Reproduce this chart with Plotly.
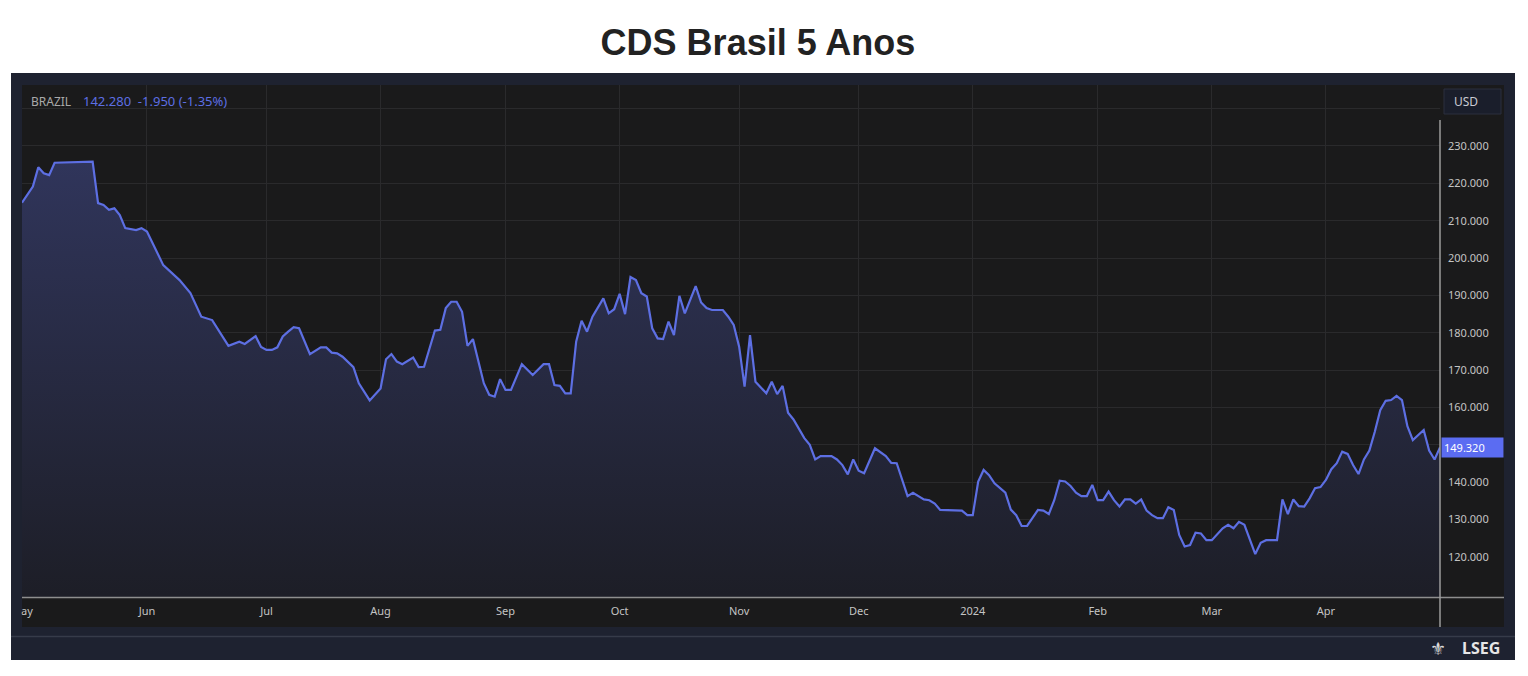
import plotly.graph_objects as go

# CDS Brasil 5 anos (dias uteis)
dates = [
    "2023-05-01", "2023-05-03", "2023-05-04", "2023-05-05", "2023-05-08", "2023-05-09",
    "2023-05-18", "2023-05-19", "2023-05-22", "2023-05-23", "2023-05-24", "2023-05-25",
    "2023-05-26", "2023-05-30", "2023-05-31", "2023-06-01", "2023-06-06", "2023-06-09",
    "2023-06-13", "2023-06-15", "2023-06-19", "2023-06-22", "2023-06-26", "2023-06-27",
    "2023-06-29", "2023-06-30", "2023-07-03", "2023-07-04", "2023-07-05", "2023-07-06",
    "2023-07-07", "2023-07-10", "2023-07-11", "2023-07-13", "2023-07-17", "2023-07-18",
    "2023-07-19", "2023-07-20", "2023-07-21", "2023-07-25", "2023-07-26", "2023-07-28",
    "2023-08-01", "2023-08-02", "2023-08-03", "2023-08-04", "2023-08-07", "2023-08-09",
    "2023-08-10", "2023-08-11", "2023-08-15", "2023-08-16", "2023-08-17", "2023-08-18",
    "2023-08-21", "2023-08-22", "2023-08-23", "2023-08-24", "2023-08-28", "2023-08-29",
    "2023-08-30", "2023-08-31", "2023-09-01", "2023-09-04", "2023-09-06", "2023-09-08",
    "2023-09-12", "2023-09-13", "2023-09-14", "2023-09-15", "2023-09-18", "2023-09-19",
    "2023-09-20", "2023-09-21", "2023-09-22", "2023-09-25", "2023-09-27", "2023-09-28",
    "2023-09-29", "2023-10-02", "2023-10-03", "2023-10-04", "2023-10-05", "2023-10-06",
    "2023-10-09", "2023-10-10", "2023-10-11", "2023-10-12", "2023-10-13", "2023-10-16",
    "2023-10-17", "2023-10-18", "2023-10-20", "2023-10-23", "2023-10-24", "2023-10-25",
    "2023-10-27", "2023-10-30", "2023-10-31", "2023-11-01", "2023-11-02", "2023-11-03",
    "2023-11-06", "2023-11-08", "2023-11-09", "2023-11-10", "2023-11-13", "2023-11-14",
    "2023-11-15", "2023-11-16", "2023-11-17", "2023-11-20", "2023-11-21", "2023-11-22",
    "2023-11-24", "2023-11-27", "2023-11-28", "2023-11-29", "2023-11-30", "2023-12-01",
    "2023-12-04", "2023-12-06", "2023-12-08", "2023-12-11", "2023-12-12", "2023-12-14",
    "2023-12-15", "2023-12-18", "2023-12-19", "2023-12-20", "2023-12-21", "2023-12-22",
    "2023-12-28", "2023-12-29", "2024-01-01", "2024-01-02", "2024-01-03", "2024-01-04",
    "2024-01-05", "2024-01-09", "2024-01-10", "2024-01-11", "2024-01-12", "2024-01-15",
    "2024-01-16", "2024-01-17", "2024-01-18", "2024-01-19", "2024-01-22", "2024-01-23",
    "2024-01-24", "2024-01-25", "2024-01-26", "2024-01-29", "2024-01-30", "2024-01-31",
    "2024-02-01", "2024-02-02", "2024-02-05", "2024-02-06", "2024-02-07", "2024-02-08",
    "2024-02-09", "2024-02-12", "2024-02-13", "2024-02-14", "2024-02-15", "2024-02-16",
    "2024-02-19", "2024-02-20", "2024-02-21", "2024-02-22", "2024-02-23", "2024-02-26",
    "2024-02-27", "2024-02-28", "2024-02-29", "2024-03-01", "2024-03-05", "2024-03-06",
    "2024-03-07", "2024-03-08", "2024-03-11", "2024-03-13", "2024-03-14", "2024-03-15",
    "2024-03-19", "2024-03-20", "2024-03-21", "2024-03-22", "2024-03-25", "2024-03-26",
    "2024-03-27", "2024-03-28", "2024-03-29", "2024-04-01", "2024-04-02", "2024-04-03",
    "2024-04-04", "2024-04-05", "2024-04-08", "2024-04-09", "2024-04-10", "2024-04-11",
    "2024-04-12", "2024-04-15", "2024-04-16", "2024-04-17", "2024-04-18", "2024-04-19",
    "2024-04-22", "2024-04-23", "2024-04-25", "2024-04-26", "2024-04-29", "2024-04-30",
]
cds = [
    214.8, 219.1, 224.3, 222.7, 222.2, 225.5,
    225.8, 214.7, 214.2, 212.9, 213.3, 211.5,
    208.0, 207.5, 208.0, 207.1, 198.1, 194.1,
    190.6, 184.3, 183.4, 176.5, 177.6, 177.0,
    179.1, 176.2, 175.4, 175.4, 176.1, 179.0,
    180.3, 181.5, 181.2, 174.3, 176.1, 176.1,
    174.7, 174.5, 173.6, 170.8, 166.5, 161.9,
    165.1, 172.9, 174.3, 172.3, 171.6, 173.4,
    170.8, 170.9, 180.6, 180.8, 186.6, 188.3,
    188.3, 185.6, 176.5, 178.3, 166.5, 163.4,
    162.9, 167.6, 164.7, 164.7, 171.6, 168.7,
    171.6, 171.6, 166.0, 165.8, 163.8, 163.8,
    177.6, 183.2, 180.3, 184.3, 189.2, 185.2,
    186.3, 190.4, 185.0, 194.9, 194.1, 190.6,
    189.7, 181.2, 178.5, 178.3, 183.0, 179.4,
    189.9, 185.2, 192.5, 188.1, 186.6, 186.1,
    186.1, 184.3, 182.1, 176.3, 165.6, 179.4,
    166.9, 163.8, 166.9, 163.6, 165.8, 158.6,
    156.8, 154.4, 151.8, 150.0, 146.1, 147.0,
    147.0, 146.1, 144.6, 142.1, 146.1, 143.1,
    142.4, 149.1, 147.0, 145.2, 145.1, 136.3,
    137.2, 136.3, 135.4, 135.2, 134.3, 132.6,
    132.4, 131.2, 131.2, 140.2, 143.3, 141.9,
    139.7, 137.2, 132.7, 131.2, 128.3, 128.3,
    130.4, 132.6, 132.4, 131.5, 135.2, 140.4,
    140.2, 139.0, 137.2, 136.3, 136.3, 139.3,
    135.2, 135.2, 137.5, 135.2, 133.5, 135.4,
    135.4, 134.3, 135.4, 132.4, 131.2, 130.4,
    130.4, 133.3, 132.6, 125.9, 122.8, 123.2,
    126.5, 126.3, 124.5, 124.5, 127.7, 128.6,
    127.7, 129.4, 128.6, 120.8, 123.8, 124.5,
    124.5, 135.4, 131.5, 135.4, 133.6, 133.5,
    135.7, 138.4, 138.7, 140.6, 143.5, 145.1,
    148.2, 147.6, 144.6, 142.2, 146.1, 148.5,
    153.5, 159.3, 161.8, 162.0, 163.1, 162.0,
    155.0, 151.3, 154.0, 148.5, 146.1, 149.32,
]

month_ticks = ["2023-05-01", "2023-06-01", "2023-07-03", "2023-08-01", "2023-09-01",
               "2023-10-02", "2023-11-01", "2023-12-01", "2024-01-01", "2024-02-01",
               "2024-03-01", "2024-04-01"]
month_labels = ["May", "Jun", "Jul", "Aug", "Sep", "Oct", "Nov", "Dec", "2024",
                "Feb", "Mar", "Apr"]
y_ticks = [120, 130, 140, 150, 160, 170, 180, 190, 200, 210, 220, 230, 240]
# 150 fica escondido atras da etiqueta do ultimo valor
y_labels = ["120.000", "130.000", "140.000", "", "160.000", "170.000",
            "180.000", "190.000", "200.000", "210.000", "220.000", "230.000", ""]

# a pagina html tem 8px de margem no body: tudo em pixels da pagina, descontando OFF
OFF = 8
W, H = 1512, 660
L, R, T, B = 22 - OFF, 1440 - OFF, 85 - OFF, 597 - OFF


def px(x):
    return (x - OFF - L) / (R - L)


def py(y):
    return (B - (y - OFF)) / (B - T)


NAVY = "#1e2230"
DARK = "#1a1a1b"
BLUE = "#5d6fe3"
FONT = "Noto Sans, Open Sans, sans-serif"
TICK_FONT = dict(family=FONT, size=11, color="#c4c4c4")

fig = go.Figure()

fig.add_trace(go.Scatter(
    x=dates, y=cds,
    mode="lines",
    line=dict(color=BLUE, width=2.2),
    fill="tozeroy",
    fillgradient=dict(type="vertical", start=110, stop=226,
                      colorscale=[[0, "#1d1e27"], [1, "#30355b"]]),
    hoverinfo="skip",
))


def rect(x0, y0, x1, y1, fill, line=None, layer="below"):
    return dict(type="rect", xref="paper", yref="paper",
                x0=px(x0), x1=px(x1), y0=py(y1), y1=py(y0),
                fillcolor=fill, line=dict(width=1 if line else 0, color=line or fill),
                layer=layer)


def hline(x0, x1, y, color, width):
    return dict(type="line", xref="paper", yref="paper", x0=px(x0), x1=px(x1),
                y0=py(y), y1=py(y), line=dict(color=color, width=width))


shapes = [
    rect(11, 73, 1515, 660, NAVY),
    rect(22, 85, 1504, 627, DARK),
    hline(11, 1515, 636.5, "#363b49", 1.5),
    hline(22, 1504, 597.5, "#8e8e8e", 1.5),
    dict(type="line", xref="paper", yref="paper", x0=px(1440), x1=px(1440),
         y0=py(627), y1=py(120), line=dict(color="#9c9c9c", width=1.5)),
    rect(1444, 89, 1501, 114, "#1a1e2b", line="#2a2f3e"),
    # faixa que corta o rotulo "May" na borda esquerda
    rect(11, 598, 21.5, 627, NAVY, layer="above"),
]

annotations = [
    dict(text="BRAZIL", xref="paper", yref="paper", x=px(29), y=py(101),
         xanchor="left", yanchor="middle", showarrow=False,
         font=dict(family=FONT, size=12, color="#a9a9a9")),
    dict(text="142.280&nbsp;&nbsp;-1.950 (-1.35%)", xref="paper", yref="paper",
         x=px(81), y=py(101), xanchor="left", yanchor="middle", showarrow=False,
         font=dict(family=FONT, size=13, color=BLUE)),
    dict(text="USD", xref="paper", yref="paper", x=px(1452), y=py(101.5),
         xanchor="left", yanchor="middle", showarrow=False,
         font=dict(family=FONT, size=12, color="#c9cbd3")),
    dict(text=f"{cds[-1]:.3f}", xref="paper", yref="y", x=px(1440.5), y=cds[-1],
         xanchor="left", yanchor="middle", showarrow=False, bgcolor="#5b6cf2",
         width=57, align="left", borderpad=2,
         font=dict(family=FONT, size=11, color="#ffffff")),
    dict(text="\u269c", xref="paper", yref="paper", x=px(1438), y=py(648),
         xanchor="center", yanchor="middle", showarrow=False,
         font=dict(family="DejaVu Sans, sans-serif", size=18, color="#d8d8d8")),
    dict(text="<b>LSEG</b>", xref="paper", yref="paper", x=px(1460), y=py(648),
         xanchor="left", yanchor="middle", showarrow=False,
         font=dict(family=FONT, size=16, color="#e6e6e6")),
]

fig.update_layout(
    width=W, height=H,
    margin=dict(l=L, r=W - R, t=T, b=H - B),
    paper_bgcolor="white",
    plot_bgcolor=DARK,
    showlegend=False,
    title=dict(text="<b>CDS Brasil 5 Anos</b>", x=(758 - OFF) / W, xref="container",
               xanchor="center", y=1 - (42 - OFF) / H, yanchor="middle", yref="container",
               font=dict(family="Liberation Sans, Arial, sans-serif", size=36,
                         color="#222222")),
    shapes=shapes,
    annotations=annotations,
)

fig.update_xaxes(
    type="date",
    range=[dates[0], dates[-1]],
    rangebreaks=[dict(bounds=["sat", "mon"])],
    tickvals=month_ticks, ticktext=month_labels,
    showgrid=True, gridcolor="#2a2a2c", gridwidth=1,
    showline=False, zeroline=False, ticks="",
    tickfont=TICK_FONT, ticklabelstandoff=6,
    automargin=False, fixedrange=True,
)
fig.update_yaxes(
    range=[109.3, 246.3],
    side="right",
    tickvals=y_ticks, ticktext=y_labels,
    showgrid=True, gridcolor="#2a2a2c", gridwidth=1,
    showline=False, zeroline=False, ticks="",
    tickfont=TICK_FONT, ticklabelstandoff=7,
    automargin=False, fixedrange=True,
)

fig.write_html("out.html")
